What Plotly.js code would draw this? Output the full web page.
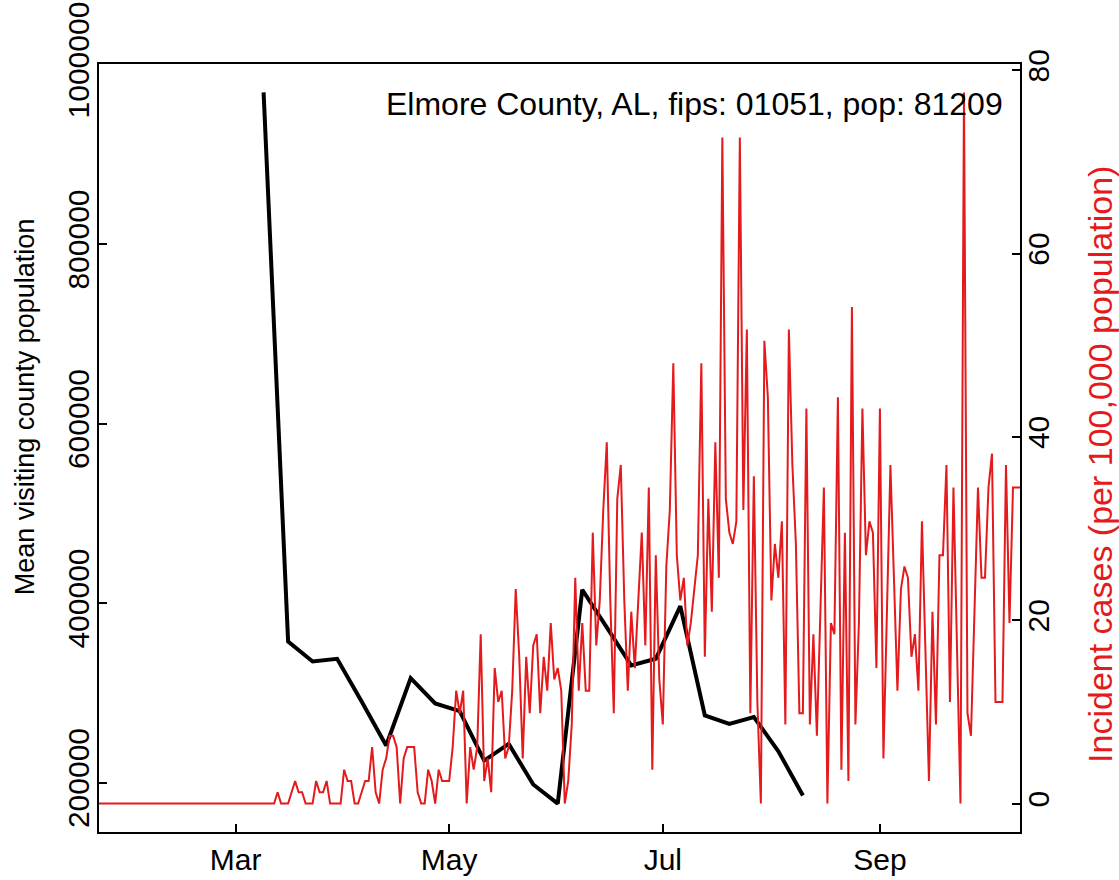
<!DOCTYPE html>
<html>
<head>
<meta charset="utf-8">
<script src="https://cdn.plot.ly/plotly-3.0.1.min.js"></script>
<style>html,body{margin:0;padding:0;background:#fff;}#chart{width:1119px;height:880px;}</style>
</head>
<body>
<div id="chart"></div>
<script>
// ---- data ----
const countyLabel = 'Elmore County, AL, fips: 01051, pop: 81209';
const leftTitle = 'Mean visiting county population';
const rightTitle = 'Incident cases (per 100,000 population)';
const population = 81209;
const caseStartDate = '2020-01-22';
// daily new cases (counts), one per day from caseStartDate
const dailyCases = [
  0,0,0,0,0,0,0,0,0,0,
  0,0,0,0,0,0,0,0,0,0,
  0,0,0,0,0,0,0,0,0,0,
  0,0,0,0,0,0,0,0,0,0,
  0,0,0,0,0,0,0,0,0,0,
  0,1,0,0,0,1,2,1,1,0,
  0,0,2,1,1,2,0,0,0,0,
  3,2,2,0,0,1,2,2,5,1,
  0,3,4,6,6,5,0,4,5,5,
  5,1,0,0,3,2,0,3,2,2,
  2,5,10,8,10,0,5,3,5,15,
  2,4,1,12,9,10,4,5,10,19,
  13,4,13,8,14,15,8,13,10,16,
  11,12,10,0,2,7,20,10,16,10,
  10,24,14,18,26,32,18,8,27,30,
  18,10,17,12,18,24,14,28,3,22,
  11,7,21,26,39,22,18,20,14,16,
  19,22,39,13,27,17,32,20,59,27,
  24,23,25,59,26,42,8,29,9,0,
  41,36,18,23,20,25,7,42,30,23,
  8,8,35,7,15,6,17,28,0,16,
  15,36,3,24,2,44,7,16,35,22,
  25,24,12,35,4,17,30,20,10,19,
  21,20,13,15,10,25,13,2,17,7,
  22,22,30,9,28,14,0,63,8,6,
  17,28,20,20,28,31,9,9,9,30,
  16,28,28,28
];
const visitWeeks = ['2020-03-09','2020-03-16','2020-03-23','2020-03-30','2020-04-06','2020-04-13',
  '2020-04-20','2020-04-27','2020-05-04','2020-05-11','2020-05-18','2020-05-25','2020-06-01',
  '2020-06-08','2020-06-15','2020-06-22','2020-06-29','2020-07-06','2020-07-13','2020-07-20',
  '2020-07-27','2020-08-03','2020-08-10'];
const visitPop = [968900,357200,334900,337900,290300,241300,316300,288100,279500,224500,243100,
  197800,176600,414800,372800,330400,337900,396600,274700,265300,273000,234900,185500];
const monthTicks = ['2020-03-01','2020-05-01','2020-07-01','2020-09-01'];
const monthLabels = ['Mar','May','Jul','Sep'];
const leftTicks = [200000,400000,600000,800000,1000000];
const rightTicks = [0,20,40,60,80];

// ---- build ----
function addDays(s, n){const d=new Date(s+'T00:00:00Z');d.setUTCDate(d.getUTCDate()+n);return d.toISOString().slice(0,10);}
const caseDates = dailyCases.map((_,i)=>addDays(caseStartDate,i));
const incidence = dailyCases.map(c=>c/population*100000);
const RED = '#E41A1C';
const FONT = 'Liberation Sans, Arial, Helvetica, sans-serif';

const traces = [
  {x: visitWeeks, y: visitPop, type:'scatter', mode:'lines', line:{color:'black', width:4}, yaxis:'y', hoverinfo:'skip'},
  {x: caseDates, y: incidence, type:'scatter', mode:'lines', line:{color:RED, width:2}, yaxis:'y2', hoverinfo:'skip'}
];

const axisCommon = {showgrid:false, zeroline:false, showline:true, linecolor:'black', linewidth:2,
  ticks:'inside', ticklen:8, tickwidth:2, tickcolor:'black', mirror:true};

const layout = {
  width:1119, height:880,
  margin:{l:99, r:99, t:64, b:48, pad:0},
  paper_bgcolor:'white', plot_bgcolor:'white', showlegend:false,
  font:{family:FONT, size:30, color:'black'},
  xaxis: Object.assign({}, axisCommon, {type:'date', range:[caseStartDate, caseDates[caseDates.length-1]],
    tickmode:'array', tickvals:monthTicks, ticktext:monthLabels, ticklabelstandoff:0, tickfont:{size:30}}),
  yaxis: Object.assign({}, axisCommon, {range:[144900,1000600], tickmode:'array', tickvals:leftTicks,
    ticktext:leftTicks.map(String), tickangle:-90, ticklabelstandoff:-4, tickfont:{size:30}}),
  yaxis2: Object.assign({}, axisCommon, {overlaying:'y', side:'right', range:[-3.103,80.68], tickmode:'array',
    tickvals:rightTicks, ticktext:rightTicks.map(String), tickangle:-90, ticklabelstandoff:-9, tickfont:{size:30}}),
  annotations:[
    {xref:'paper', yref:'paper', x:0.984, y:0.948, xanchor:'right', yanchor:'middle',
     text:countyLabel, showarrow:false, font:{size:32, color:'black'}},
    {xref:'paper', yref:'paper', x:-0.0803, y:0.553, xanchor:'center', yanchor:'middle', textangle:-90,
     text:leftTitle, showarrow:false, font:{size:27, color:'black'}},
    {xref:'paper', yref:'paper', x:1.0869, y:0.478, xanchor:'center', yanchor:'middle', textangle:-90,
     text:rightTitle, showarrow:false, font:{size:34, color:RED}}
  ]
};

Plotly.newPlot('chart', traces, layout, {staticPlot:true, displayModeBar:false});
</script>
</body>
</html>
